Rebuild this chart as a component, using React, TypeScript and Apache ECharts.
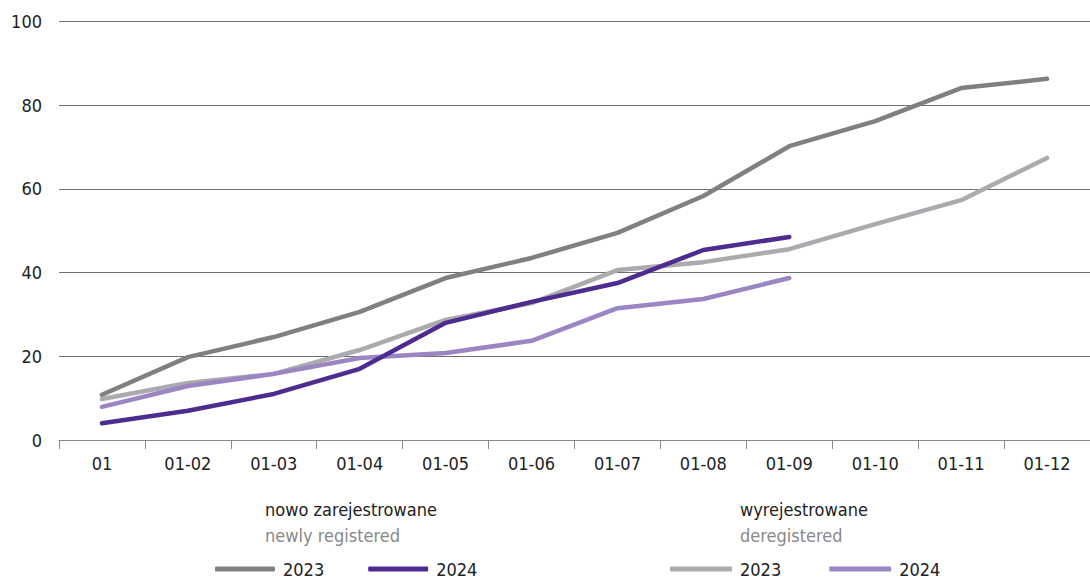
import React, { useEffect, useRef } from "react";
import * as echarts from "echarts";

const categories = ["01", "01-02", "01-03", "01-04", "01-05", "01-06", "01-07", "01-08", "01-09", "01-10", "01-11", "01-12"];
const newly2023 = [10.8, 19.8, 24.6, 30.6, 38.7, 43.5, 49.5, 58.3, 70.2, 76.2, 84.1, 86.3];
const newly2024 = [4, 7, 11, 17, 28, 33, 37.5, 45.4, 48.5];
const dereg2023 = [9.8, 13.6, 15.8, 21.5, 28.7, 32.7, 40.6, 42.5, 45.6, 51.6, 57.3, 67.4];
const dereg2024 = [7.9, 12.9, 15.8, 19.6, 20.8, 23.7, 31.5, 33.7, 38.7];
const yTicks = [0, 20, 40, 60, 80, 100];

const FONT = "'DejaVu Sans Condensed', 'Liberation Sans Narrow', 'Open Sans', sans-serif";
const C1 = "#808083";
const C2 = "#4e2b8f";
const C3 = "#abaaae";
const C4 = "#9b86c3";

export default function App() {
  const ref = useRef<HTMLDivElement>(null);
  useEffect(() => {
    const chart = echarts.init(ref.current!, null, { renderer: "svg" });
    const line = (name: string, data: number[], color: string) => ({
      name,
      type: "line",
      data,
      showSymbol: false,
      symbol: "none",
      itemStyle: { color },
      lineStyle: { color, width: 4.5, cap: "round", join: "round" },
    });
    chart.setOption({
      animation: false,
      textStyle: { fontFamily: FONT },
      grid: { left: 59, right: 0, top: 21.5, bottom: 138, containLabel: false },
      xAxis: {
        type: "category",
        data: categories,
        boundaryGap: true,
        axisLine: { lineStyle: { color: "#888", width: 1 } },
        axisTick: { show: true, length: 9, lineStyle: { color: "#888" } },
        axisLabel: { color: "#222", fontSize: 18, fontFamily: FONT, margin: 14 },
      },
      yAxis: {
        type: "value",
        min: 0,
        max: 100,
        interval: 20,
        axisLine: { show: false },
        axisTick: { show: false },
        axisLabel: {
          color: "#222",
          fontSize: 18,
          fontFamily: FONT,
          margin: 17,
          formatter: (v: number) => (yTicks.includes(v) ? String(v) : ""),
        },
        splitLine: { lineStyle: { color: "#6f6f6f", width: 1 } },
      },
      legend: [
        {
          data: ["2023", "2024"],
          left: 215,
          top: 560,
          padding: 0,
          itemWidth: 60,
          itemHeight: 5,
          itemGap: 44,
          icon: "roundRect",
          formatter: (n: string) => n.trim(),
          textStyle: { fontSize: 18, color: "#222", fontFamily: FONT, padding: [0, 0, 0, 3] },
        },
        {
          data: ["2023 ", "2024 "],
          left: 670,
          top: 560,
          padding: 0,
          itemWidth: 62,
          itemHeight: 5,
          itemGap: 48,
          icon: "roundRect",
          formatter: (n: string) => n.trim(),
          textStyle: { fontSize: 18, color: "#222", fontFamily: FONT, padding: [0, 0, 0, 3] },
        },
      ],
      graphic: [
        { type: "text", left: 265, top: 500, style: { text: "nowo zarejestrowane", fontSize: 18, fill: "#222", fontFamily: FONT } },
        { type: "text", left: 265, top: 526, style: { text: "newly registered", fontSize: 18, fill: "#888", fontFamily: FONT } },
        { type: "text", left: 740, top: 500, style: { text: "wyrejestrowane", fontSize: 18, fill: "#222", fontFamily: FONT } },
        { type: "text", left: 740, top: 526, style: { text: "deregistered", fontSize: 18, fill: "#888", fontFamily: FONT } },
      ],
      series: [
        line("2023 ", dereg2023, C3),
        line("2024 ", dereg2024, C4),
        line("2023", newly2023, C1),
        line("2024", newly2024, C2),
      ],
    });
    return () => chart.dispose();
  }, []);
  return <div ref={ref} style={{ width: 1090, height: 578, position: "absolute", left: 0, top: 0 }} />;
}
